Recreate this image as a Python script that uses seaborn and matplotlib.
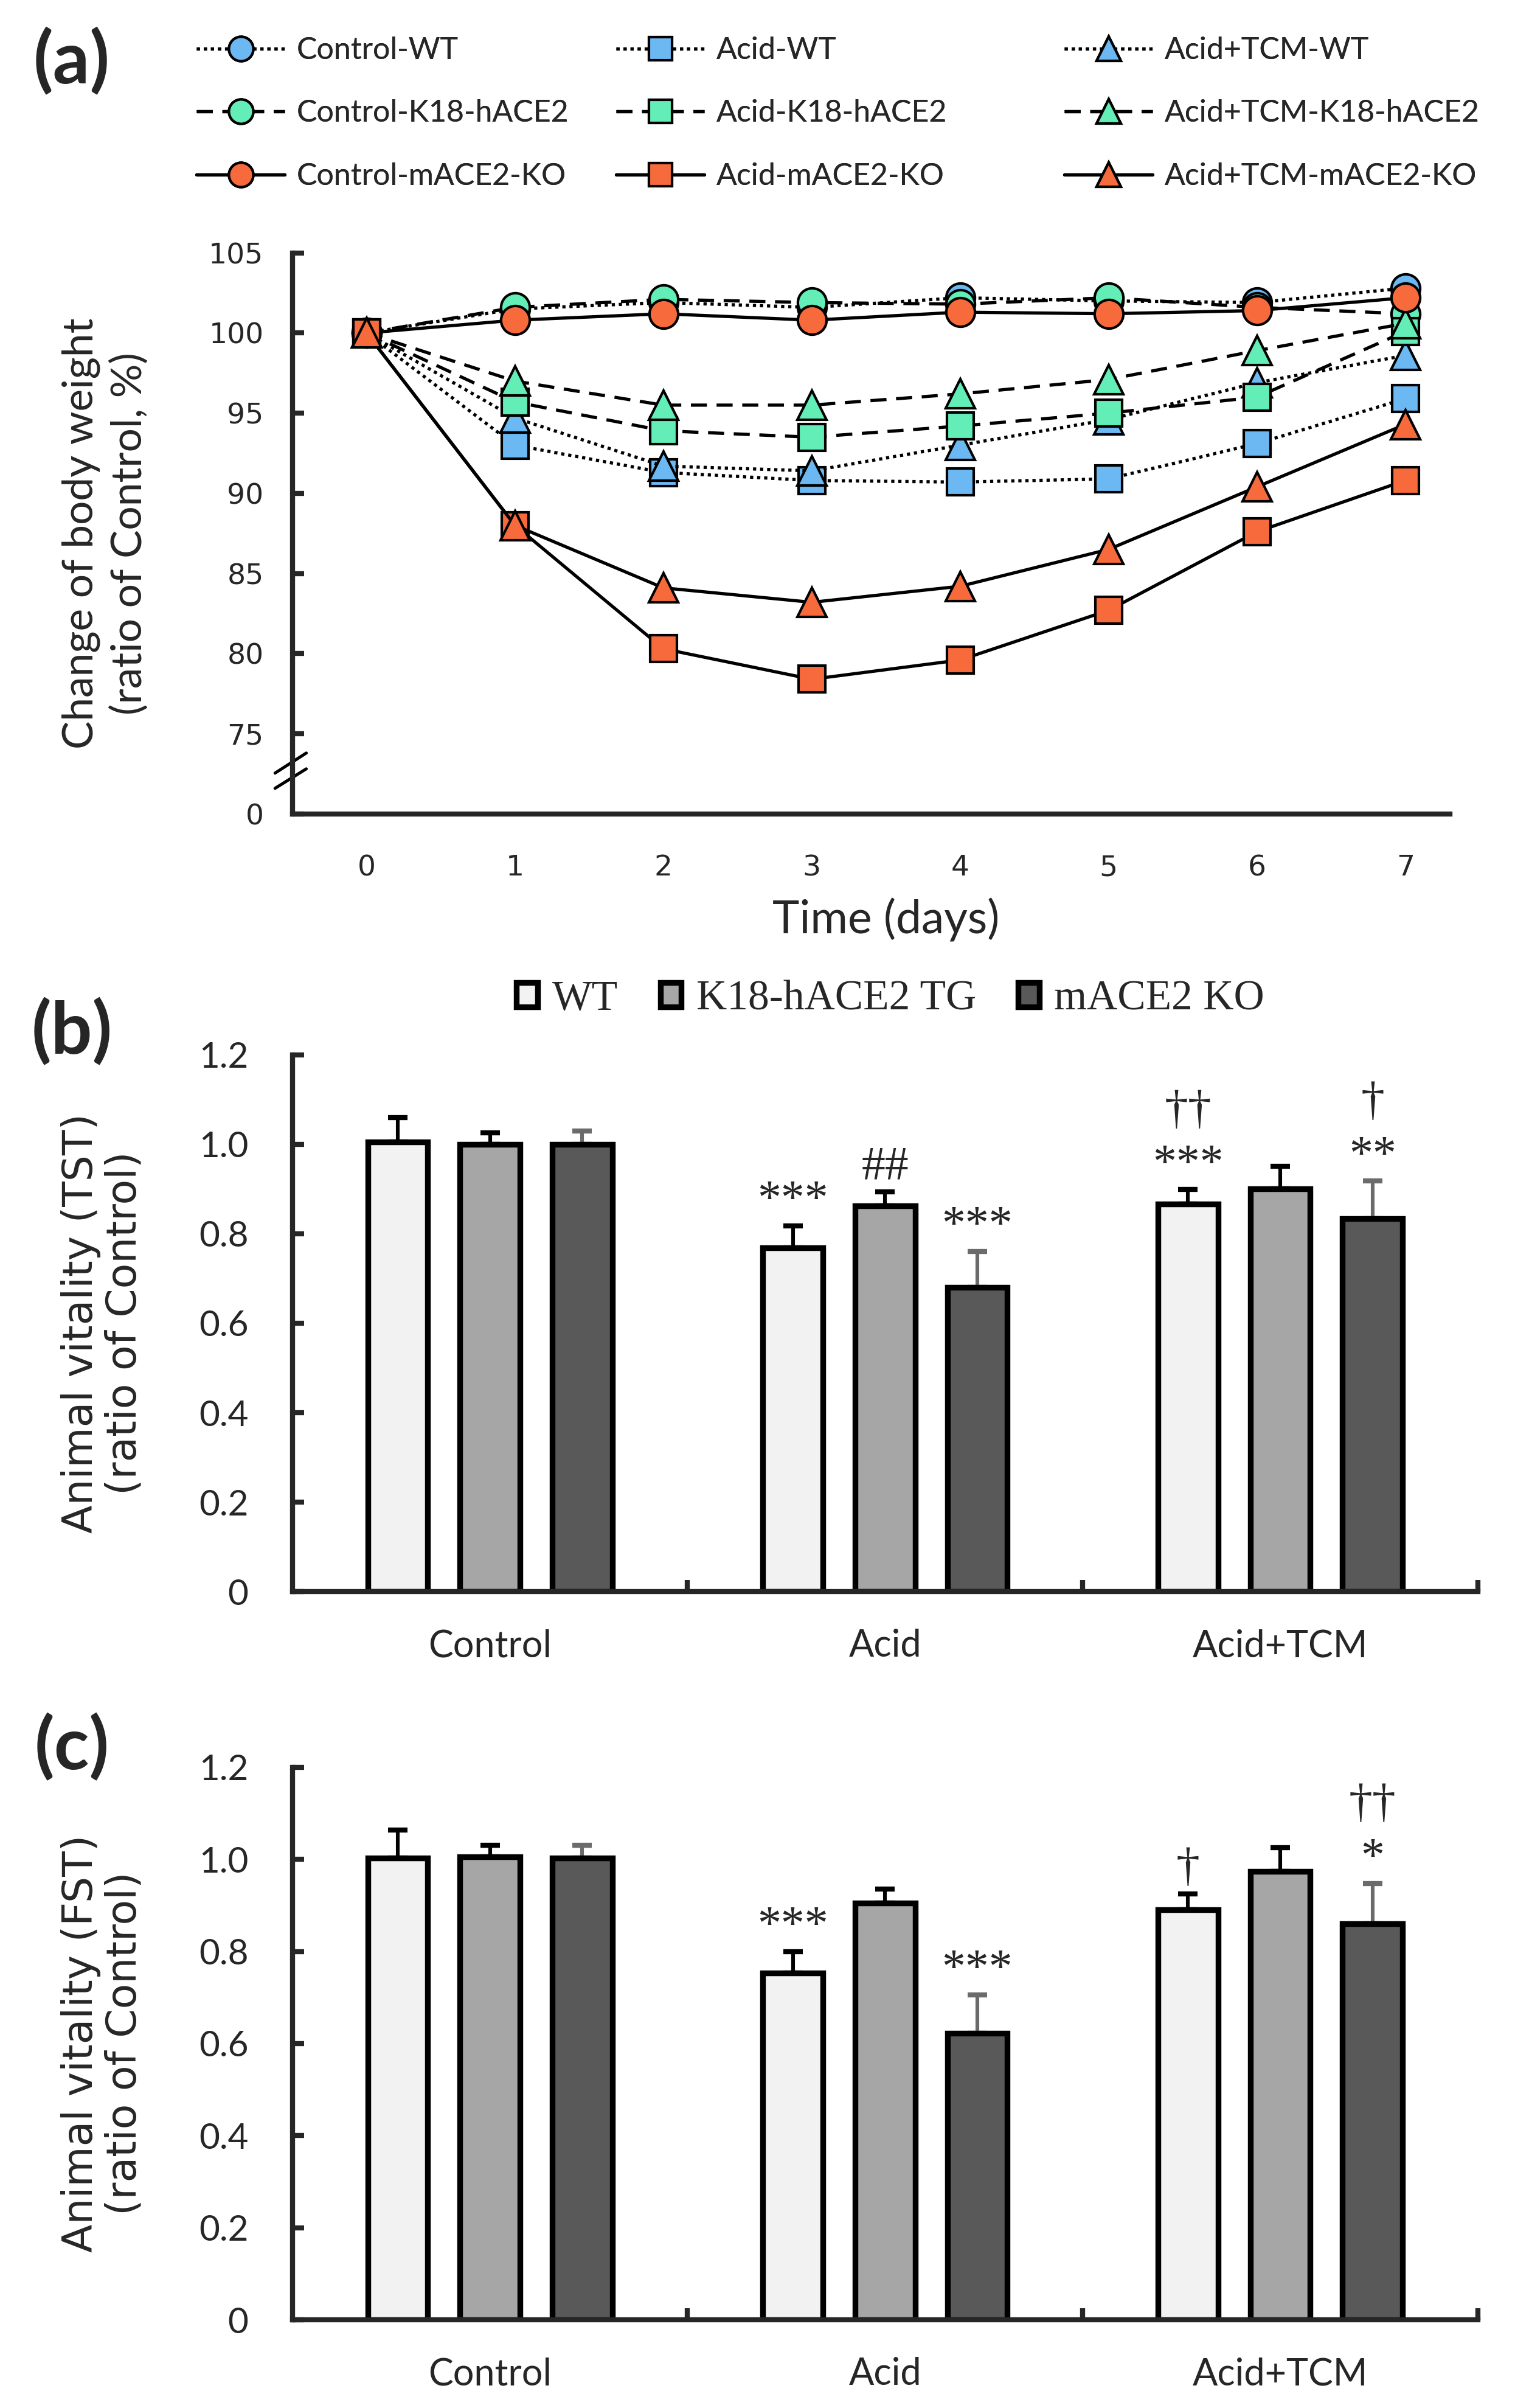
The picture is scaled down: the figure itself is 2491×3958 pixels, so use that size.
# %%
import numpy as np
import pandas as pd
import matplotlib

matplotlib.use("Agg")
import matplotlib.pyplot as plt
import seaborn as sns

sns.set_theme(style="ticks")
plt.rcParams["font.family"] = ["Lato", "DejaVu Sans"]

# %%
# (a) body weight, ratio of control (%)
days = [0, 1, 2, 3, 4, 5, 6, 7]
ctrl_wt = [100, 101.5, 101.9, 101.6, 102.2, 102.0, 101.9, 102.8]
acid_wt = [100, 93.0, 91.3, 90.8, 90.7, 90.9, 93.1, 95.9]
tcm_wt = [100, 94.7, 91.7, 91.4, 93.0, 94.6, 96.9, 98.6]
ctrl_k18 = [100, 101.6, 102.1, 101.9, 101.8, 102.2, 101.6, 101.2]
acid_k18 = [100, 95.7, 93.9, 93.5, 94.2, 95.0, 96.0, 100.1]
tcm_k18 = [100, 97.0, 95.5, 95.5, 96.2, 97.1, 98.9, 100.6]
ctrl_ko = [100, 100.8, 101.2, 100.8, 101.3, 101.2, 101.4, 102.2]
acid_ko = [100, 88.0, 80.3, 78.4, 79.6, 82.7, 87.6, 90.8]
tcm_ko = [100, 88.0, 84.1, 83.2, 84.2, 86.5, 90.4, 94.3]

weight_yticks = [70, 75, 80, 85, 90, 95, 100, 105]
weight_yticklabels = ["0", "75", "80", "85", "90", "95", "100", "105"]

# (b), (c) vitality, ratio of control
groups = ["Control", "Acid", "Acid+TCM"]
strains = ["WT", "K18-hACE2 TG", "mACE2 KO"]

tst_wt = [1.005, 0.769, 0.866]
tst_k18 = [1.000, 0.862, 0.900]
tst_ko = [1.000, 0.680, 0.834]
tst_wt_err = [0.055, 0.049, 0.033]
tst_k18_err = [0.025, 0.031, 0.050]
tst_ko_err = [0.030, 0.081, 0.084]
tst_wt_marks = ["", "***", "††\n***"]
tst_k18_marks = ["", "##", ""]
tst_ko_marks = ["", "***", "†\n**"]

fst_wt = [1.003, 0.753, 0.891]
fst_k18 = [1.005, 0.905, 0.974]
fst_ko = [1.003, 0.622, 0.860]
fst_wt_err = [0.060, 0.047, 0.034]
fst_k18_err = [0.026, 0.030, 0.051]
fst_ko_err = [0.028, 0.084, 0.088]
fst_wt_marks = ["", "***", "†"]
fst_k18_marks = ["", "", ""]
fst_ko_marks = ["", "***", "††\n*"]

vit_yticks = [0, 0.2, 0.4, 0.6, 0.8, 1.0, 1.2]
vit_yticklabels = ["0", "0.2", "0.4", "0.6", "0.8", "1.0", "1.2"]

# %%
blue = "#6cb8f2"
green = "#62eeb6"
orange = "#f76a3c"
dotted = (0, (1, 1.2))
dashed = (0, (5, 3))
solid = "-"

series = [
    ("Control-WT", ctrl_wt, blue, "o", dotted),
    ("Acid-WT", acid_wt, blue, "s", dotted),
    ("Acid+TCM-WT", tcm_wt, blue, "^", dotted),
    ("Control-K18-hACE2", ctrl_k18, green, "o", dashed),
    ("Acid-K18-hACE2", acid_k18, green, "s", dashed),
    ("Acid+TCM-K18-hACE2", tcm_k18, green, "^", dashed),
    ("Control-mACE2-KO", ctrl_ko, orange, "o", solid),
    ("Acid-mACE2-KO", acid_ko, orange, "s", solid),
    ("Acid+TCM-mACE2-KO", tcm_ko, orange, "^", solid),
]
marker_sizes = {"o": 17, "s": 16, "^": 17}

fig = plt.figure(figsize=(12.455, 19.79), dpi=200)
ax_a = fig.add_axes([0.193, 0.662, 0.764, 0.233])
ax_b = fig.add_axes([0.193, 0.339, 0.7825, 0.223])
ax_c = fig.add_axes([0.193, 0.0366, 0.7825, 0.2295])

for name, vals, color, marker, ls in series:
    sns.lineplot(
        x=days, y=vals, ax=ax_a, color="black", linestyle=ls, linewidth=1.9,
        marker=marker, markersize=marker_sizes[marker],
        markerfacecolor=color, markeredgecolor="black", markeredgewidth=1.5,
        label=name,
    )
if ax_a.get_legend() is not None:
    ax_a.get_legend().remove()

ax_a.set_xlim(-0.5, 7.3)
ax_a.set_ylim(70, 105)
ax_a.set_xticks(days)
ax_a.set_yticks(weight_yticks)
ax_a.set_yticklabels(weight_yticklabels)
for lab in ax_a.get_xticklabels() + ax_a.get_yticklabels():
    lab.set_family("DejaVu Sans")
ax_a.tick_params(axis="y", direction="in", length=7, width=3, labelsize=17, pad=17)
ax_a.tick_params(axis="x", length=0, labelsize=17, pad=24)
sns.despine(ax=ax_a)
for sp in ["left", "bottom"]:
    ax_a.spines[sp].set_linewidth(3)
ax_a.set_ylabel("Change of body weight\n(ratio of Control, %)", fontsize=25, linespacing=1.3)
ax_a.yaxis.set_label_coords(-0.124, 0.5)
ax_a.set_xlabel("Time (days)", fontsize=27)
ax_a.xaxis.set_label_coords(0.513, -0.15)

# axis break mark
for y0, y1 in [(0.0727, 0.1085), (0.0456, 0.0803)]:
    ax_a.plot([-0.015, 0.012], [y0, y1], transform=ax_a.transAxes,
              color="black", lw=1.8, clip_on=False)

# legend (a): three columns
handles, labels = ax_a.get_legend_handles_labels()
lookup = dict(zip(labels, handles))
col_x = [323, 1013, 1750]
col_names = [
    ["Control-WT", "Control-K18-hACE2", "Control-mACE2-KO"],
    ["Acid-WT", "Acid-K18-hACE2", "Acid-mACE2-KO"],
    ["Acid+TCM-WT", "Acid+TCM-K18-hACE2", "Acid+TCM-mACE2-KO"],
]
for cx, names in zip(col_x, col_names):
    leg = fig.legend(
        [lookup[n] for n in names], names, loc="upper left",
        bbox_to_anchor=(cx / 2491, 1 - 60 / 3958), frameon=False,
        fontsize=18, handlelength=2.9, handletextpad=0.4, labelspacing=1.15,
        borderpad=0, borderaxespad=0, markerscale=0.85,
    )
    fig.add_artist(leg)


# %%
def bar_panel(ax, wt, k18, ko, errs, marks, ylabel, show_legend):
    df = pd.DataFrame({
        "group": groups * 3,
        "strain": np.repeat(strains, 3),
        "value": wt + k18 + ko,
    })
    sns.barplot(
        data=df, x="group", y="value", hue="strain", order=groups,
        hue_order=strains, palette=["#f2f2f2", "#a6a6a6", "#595959"],
        saturation=1, width=0.70, gap=0.35, edgecolor="black", linewidth=3.4,
        errorbar=None, ax=ax, legend=show_legend,
    )
    err_colors = ["black", "black", "#6b6b6b"]
    bar_conts = list(ax.containers)
    for i, cont in enumerate(bar_conts):
        xs = [b.get_x() + b.get_width() / 2 for b in cont]
        ys = [b.get_height() for b in cont]
        ax.errorbar(xs, ys, yerr=[np.zeros(len(ys)), errs[i]], fmt="none",
                    ecolor=err_colors[i], elinewidth=2.2, capsize=5.6,
                    capthick=3, zorder=0.5)
        for x, y, e, m in zip(xs, ys, errs[i], marks[i]):
            if m:
                ax.text(x, y + e + 0.006, m, ha="center", va="bottom",
                        fontsize=28, family="Liberation Serif",
                        linespacing=1.3)
    ax.set_xlim(-0.5, 2.5)
    ax.set_ylim(0, 1.2)
    ax.set_yticks(vit_yticks)
    ax.set_yticklabels(vit_yticklabels)
    ax.set_xticks([0.5, 1.5, 2.5], minor=True)
    ax.tick_params(axis="y", direction="in", length=7, width=3, labelsize=21, pad=26)
    ax.tick_params(axis="x", which="major", length=0, labelsize=22, pad=22)
    ax.tick_params(axis="x", which="minor", direction="in", length=7, width=3)
    sns.despine(ax=ax)
    for sp in ["left", "bottom"]:
        ax.spines[sp].set_linewidth(3)
    ax.set_xlabel("")
    ax.set_ylabel(ylabel, fontsize=24.5, family="DejaVu Sans", linespacing=1.1)
    ax.yaxis.set_label_coords(-0.125, 0.5)


bar_panel(ax_b, tst_wt, tst_k18, tst_ko,
          [tst_wt_err, tst_k18_err, tst_ko_err],
          [tst_wt_marks, tst_k18_marks, tst_ko_marks],
          "Animal vitality (TST)\n(ratio of Control)", True)
bar_panel(ax_c, fst_wt, fst_k18, fst_ko,
          [fst_wt_err, fst_k18_err, fst_ko_err],
          [fst_wt_marks, fst_k18_marks, fst_ko_marks],
          "Animal vitality (FST)\n(ratio of Control)", False)

h_b, l_b = ax_b.get_legend_handles_labels()
ax_b.get_legend().remove()
fig.legend(h_b, l_b, loc="center", bbox_to_anchor=(1464 / 2491, 1 - 1643 / 3958),
           ncol=3, frameon=False, prop={"family": "Liberation Serif", "size": 25},
           handlelength=0.5, handleheight=0.5, handletextpad=0.35,
           columnspacing=1.0, borderpad=0, borderaxespad=0)

# panel letters
for letter, ypx in [("(a)", 101), ("(b)", 1696), ("(c)", 2872)]:
    fig.text(118 / 2491, 1 - ypx / 3958, letter, fontsize=43, fontweight="bold",
             ha="center", va="center")

fig.savefig("out.png", dpi=200, facecolor="white")
